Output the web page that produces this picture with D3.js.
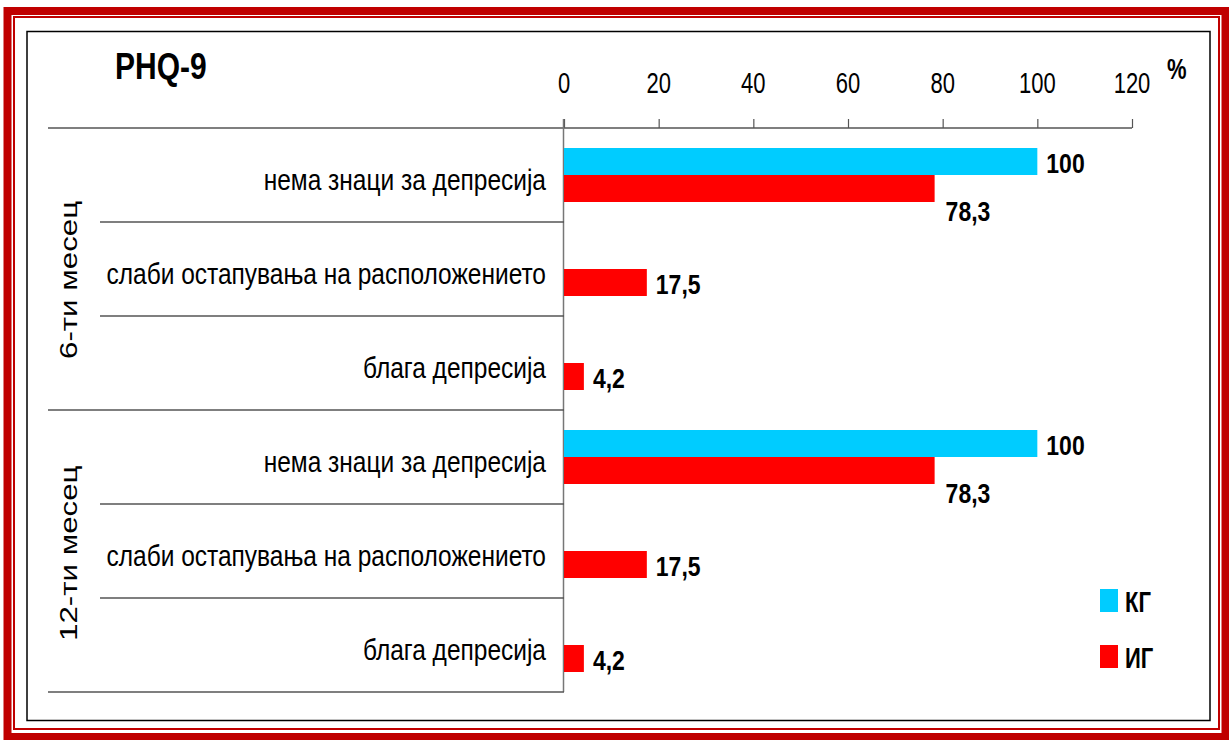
<!DOCTYPE html>
<html>
<head>
<meta charset="utf-8">
<script src="https://cdn.jsdelivr.net/npm/d3@7"></script>
<style>
  html, body { margin: 0; padding: 0; background: #fff; }
  svg { display: block; }
  text { font-family: "Liberation Sans", Arial, sans-serif; fill: #000; }
</style>
</head>
<body>
<svg id="chart" width="1229" height="740"></svg>
<script>
// PHQ-9 results by period and group (percent)
const periods = ["6-ти месец", "12-ти месец"];
const categories = ["нема знаци за депресија", "слаби остапувања на расположението", "блага депресија"];
const seriesNames = ["КГ", "ИГ"];
const kgValues = [100, 0, 0, 100, 0, 0];
const igValues = [78.3, 17.5, 4.2, 78.3, 17.5, 4.2];
const tickValues = [0, 20, 40, 60, 80, 100, 120];
const title = "PHQ-9";
const unitLabel = "%";

const colors = { "КГ": "#00CCFF", "ИГ": "#FF0000" };
const fmt = v => String(v).replace(".", ",");

const svg = d3.select("#chart");

// decorative double frame and inner plot box
svg.append("rect").attr("x", 7.5).attr("y", 11).attr("width", 1218).attr("height", 726)
  .attr("fill", "none").attr("stroke", "#C00000").attr("stroke-width", 8);
svg.append("rect").attr("x", 14).attr("y", 17).attr("width", 1205).attr("height", 712)
  .attr("fill", "none").attr("stroke", "#C00000").attr("stroke-width", 2);
svg.append("rect").attr("x", 27).attr("y", 31.5).attr("width", 1183).attr("height", 689)
  .attr("fill", "#fff").attr("stroke", "#000").attr("stroke-width", 1.5);

// text helper: horizontally narrow, vertically tall lettering
function label(g, x, y, str, opts) {
  const o = Object.assign({ size: 22, sy: 1.3, weight: "normal", anchor: "start", rotate: 0 }, opts || {});
  return g.append("text")
    .attr("transform", `translate(${x},${y}) scale(1,${o.sy})` + (o.rotate ? ` rotate(${o.rotate})` : ""))
    .attr("font-size", o.size)
    .attr("font-weight", o.weight)
    .attr("text-anchor", o.anchor)
    .text(str);
}

// rows: one per (period, category)
const rows = [];
periods.forEach((p, pi) => categories.forEach((c, ci) => {
  const i = pi * categories.length + ci;
  rows.push({ id: i, period: p, category: c, "КГ": kgValues[i], "ИГ": igValues[i] });
}));

const x = d3.scaleLinear().domain([0, 120]).range([564, 1132]);
const y = d3.scaleBand().domain(rows.map(r => r.id)).range([128, 692]);
const ySub = d3.scaleBand().domain(seriesNames).range([y.bandwidth() / 2 - 27, y.bandwidth() / 2 + 27]);

const g = svg.append("g");

// top value axis
const axis = d3.axisTop(x).tickValues(tickValues).tickSize(9).tickFormat(d3.format("d"));
const axG = g.append("g").attr("transform", `translate(0,128)`).call(axis);
axG.select(".domain").remove();
axG.selectAll(".tick line").attr("stroke", "#555").attr("stroke-width", 1.2);
axG.selectAll(".tick text").remove();
tickValues.forEach(t => label(g, x(t), 93, t, { anchor: "middle", size: 22, sy: 1.3 }));
g.append("line").attr("x1", 48).attr("x2", x(120)).attr("y1", 128).attr("y2", 128)
  .attr("stroke", "#555").attr("stroke-width", 1.5);

// vertical category axis line
g.append("line").attr("x1", x(0) - 0.5).attr("x2", x(0) - 0.5).attr("y1", 119).attr("y2", 692)
  .attr("stroke", "#777").attr("stroke-width", 1.5);

// row separators: long between periods, short between categories
rows.forEach((r, i) => {
  if (i === 0) return;
  const yy = y(r.id);
  const long = i % categories.length === 0;
  g.append("line").attr("x1", long ? 48 : 100).attr("x2", x(0)).attr("y1", yy).attr("y2", yy)
    .attr("stroke", "#555").attr("stroke-width", 1.5);
});
g.append("line").attr("x1", 48).attr("x2", x(0)).attr("y1", 692).attr("y2", 692)
  .attr("stroke", "#555").attr("stroke-width", 1.5);

// category labels
rows.forEach(r => {
  label(g, 546, y(r.id) + y.bandwidth() / 2 + 15, r.category, { anchor: "end", size: 24.5, sy: 1.2 });
});

// period labels (rotated)
periods.forEach((p, pi) => {
  const bottom = y(pi * categories.length + categories.length - 1) + y.bandwidth();
  g.append("text")
    .attr("transform", `translate(77,${bottom - 51}) scale(1,1.36) rotate(-90)`)
    .attr("font-size", 23)
    .text(p);
});

// bars
rows.forEach(r => {
  seriesNames.forEach(s => {
    const v = r[s];
    if (v <= 0) return;
    g.append("rect")
      .attr("x", x(0))
      .attr("y", y(r.id) + ySub(s))
      .attr("width", x(v) - x(0))
      .attr("height", ySub.bandwidth())
      .attr("fill", colors[s]);
  });
});

// value labels
rows.forEach(r => {
  seriesNames.forEach(s => {
    const v = r[s];
    if (v <= 0) return;
    const cy = y(r.id) + ySub(s) + ySub.bandwidth() / 2;
    let lx = x(v) + 9, ly = cy + 11;
    // a second label in a row that already has one drops below its bar
    if (s === "ИГ" && r["КГ"] > 0) { lx = x(v) + 11; ly = cy + 32; }
    label(g, lx, ly, fmt(v), { size: 23, sy: 1.22, weight: "bold" });
  });
});

// title and unit
label(g, 115, 79, title, { size: 30, sy: 1.25, weight: "bold" });
label(g, 1167, 79, unitLabel, { size: 22, sy: 1.3, weight: "bold" });

// legend
seriesNames.forEach((s, i) => {
  const ly = 589 + i * 56;
  g.append("rect").attr("x", 1100).attr("y", ly).attr("width", 18).attr("height", 23).attr("fill", colors[s]);
  label(g, 1125, ly + 23, s, { size: 22, sy: 1.3, weight: "bold" });
});
</script>
</body>
</html>
